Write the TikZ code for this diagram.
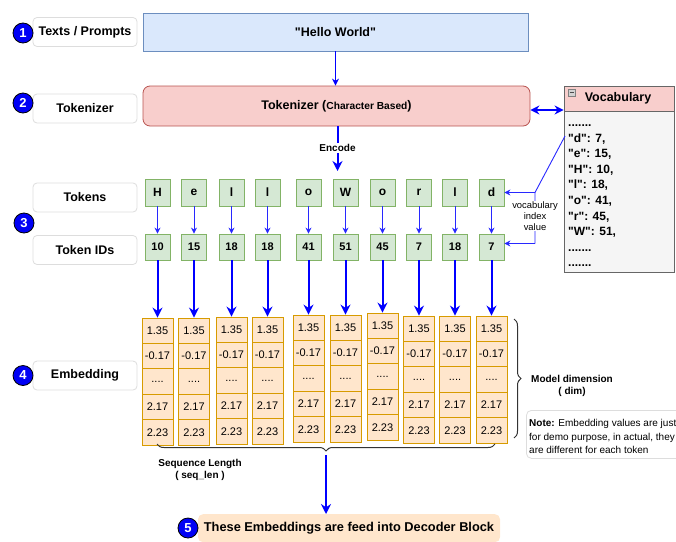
\documentclass[tikz,border=0pt]{standalone}
\usepackage{fontspec}
\setmainfont[Ligatures=TeXOff]{Liberation Sans}
\usetikzlibrary{arrows.meta,decorations.pathreplacing,calc}

\definecolor{arrowblue}{RGB}{0,0,255}
\definecolor{thinblue}{RGB}{40,40,255}
\definecolor{numblue}{RGB}{0,0,245}
\definecolor{bluefill}{HTML}{DAE8FC}
\definecolor{blueline}{HTML}{6C8EBF}
\definecolor{redfill}{HTML}{F8CECC}
\definecolor{redline}{HTML}{B85450}
\definecolor{greenfill}{HTML}{D5E8D4}
\definecolor{greenline}{HTML}{82B366}
\definecolor{orangefill}{HTML}{FFE6CC}
\definecolor{orangeline}{HTML}{D79B00}
\definecolor{grayfill}{HTML}{F5F5F5}
\definecolor{grayline}{HTML}{666666}
\definecolor{softline}{HTML}{DDDDDD}
\definecolor{bracecol}{HTML}{333333}

% dotted placeholders (kept out of \foreach lists)
\newcommand\embdots{....}
\newcommand\vocdots{.......}

\begin{document}
\begin{tikzpicture}[x=1pt,y=-1pt,
  lbl/.style={draw=softline, fill=white, rounded corners=4pt, minimum width=104pt,
    minimum height=29pt, inner sep=0pt, line width=0.8pt,
    font=\bfseries\fontsize{12.5}{14}\selectfont},
  num/.style={circle, draw=black, fill=numblue, text=white, minimum size=20pt,
    inner sep=0pt, line width=0.8pt, font=\bfseries\fontsize{13}{14}\selectfont},
  tok/.style={draw=greenline, fill=greenfill, minimum width=25pt, minimum height=27pt,
    inner sep=0pt, line width=0.8pt, font=\bfseries\fontsize{12}{14}\selectfont},
  tid/.style={tok, minimum height=26pt, font=\bfseries\fontsize{11}{13}\selectfont},
  cell/.style={draw=orangeline, fill=orangefill, minimum width=31pt, minimum height=25.4pt,
    inner sep=0pt, line width=0.8pt, font=\fontsize{11}{13}\selectfont},
  vocabtxt/.style={anchor=base west, inner sep=0pt, font=\bfseries\fontsize{12}{14}\selectfont},
  thinarrow/.style={draw=thinblue, line width=0.9pt, -{Stealth[length=6pt,width=6pt]}},
  thinline/.style={draw=thinblue, line width=0.9pt},
  medarrow/.style={draw=arrowblue, line width=1.3pt, -{Stealth[length=7pt,width=7pt]}},
  bigarrow/.style={draw=arrowblue, line width=2pt, -{Stealth[length=10pt,width=10pt]}},
  dblarrow/.style={draw=arrowblue, line width=1.8pt,
    {Stealth[length=9pt,width=9pt]}-{Stealth[length=9pt,width=9pt]}},
  bracket/.style={draw=bracecol, line width=1pt, decorate,
    decoration={brace, amplitude=7pt}},
  note/.style={inner sep=0pt, align=left, font=\fontsize{10}{13.5}\selectfont},
]
\useasboundingbox (0,0) rectangle (676,541);

% ---- row labels on the left ----
\node[lbl] (lText)   at (85,32)    {Texts / Prompts};
\node[lbl] (lTok)    at (85,108.5) {Tokenizer};
\node[lbl] (lTokens) at (85,197.5) {Tokens};
\node[lbl] (lIds)    at (85,250)   {Token IDs};
\node[lbl] (lEmb)    at (85,375.5) {Embedding};

\node[num] (n1) at (23,33)    {1};
\node[num] (n2) at (23,103)   {2};
\node[num] (n3) at (24,223)   {3};
\node[num] (n4) at (23,375.5) {4};

% ---- input text and tokenizer ----
\node[draw=blueline, fill=bluefill, minimum width=385pt, minimum height=38pt,
  line width=0.8pt, font=\bfseries\fontsize{12.5}{14}\selectfont] (hello) at (335.5,32) {"Hello World"};
\node[draw=redline, fill=redfill, rounded corners=7pt, minimum width=387pt, minimum height=40pt,
  line width=0.8pt, font=\bfseries\fontsize{12.5}{14}\selectfont] (tokz) at (336.5,106)
  {Tokenizer ({\fontsize{10.2}{12}\selectfont Character Based})};

\draw[medarrow] (hello.south) -- (hello.south |- tokz.north);

% ---- vocabulary table ----
\node[draw=grayline, fill=grayfill, minimum width=110pt, minimum height=161pt,
  inner sep=0pt, line width=0.8pt] (vbody) at (619,191.5) {};
\node[draw=grayline, fill=redfill, minimum width=110pt, minimum height=25pt,
  inner sep=0pt, line width=0.8pt] (vhead) at (619,98.5) {};
\node[font=\bfseries\fontsize{12.5}{14}\selectfont, inner sep=0pt] (vtitle) at (618,98) {Vocabulary};
\node[draw=gray, fill=gray!35, minimum size=7pt, inner sep=0pt, line width=0.5pt] (vicon) at (571.5,92.5) {};
\draw[black!70, line width=0.8pt] ([xshift=-2pt]vicon.center) -- ([xshift=2pt]vicon.center);

\foreach \txt [count=\k] in {\vocdots,{"d": 7,},{"e": 15,},{"H": 10,},{"l": 18,},
    {"o": 41,},{"r": 45,},{"W": 51,},\vocdots,\vocdots}
  \node[vocabtxt] (v\k) at (568,{126.5+15.6*(\k-1)}) {\txt};

\draw[dblarrow] ([yshift=-4pt]tokz.east) -- ([yshift=-4pt]tokz.east -| vhead.west);

% ---- encode step ----
\coordinate (encEnd) at (337.5,171);
\draw[bigarrow] (tokz.south -| encEnd) -- (encEnd);
\node[fill=white, inner sep=1pt, font=\bfseries\fontsize{10}{12}\selectfont] (enc) at (337.5,148) {Encode};

% ---- tokens, ids and embedding columns ----
\foreach \x/\top/\t/\id [count=\n] in {
    157.5/318/H/10, 194/318/e/15, 231.5/317/l/18, 267.5/317/l/18, 308.5/315/o/41,
    345.5/315/W/51, 382.5/313/o/45, 419/316/r/7, 455/316/l/18, 491.5/316/d/7} {
  \node[tok] (t\n) at (\x,192.5) {\t};
  \node[tid] (i\n) at (\x,247) {\id};
  \draw[thinarrow] (t\n) -- (i\n);
  \foreach \v [count=\r] in {1.35,-0.17,\embdots,2.17,2.23}
    \node[cell] (c\n-\r) at (\x,{\top+12.7+25.4*(\r-1)}) {\v};
  \draw[bigarrow] (i\n.south) -- (i\n.south |- c\n-1.north);
}

% ---- link from the vocabulary to the last token ----
\coordinate (vdot) at (565,136);
\coordinate (vj)  at (535,192.5);
\coordinate (vj2) at (535,243.5);
\draw[thinline] (vdot) -- (vj) -- (vj2);
\draw[thinarrow] (vj) -- (vj -| t10.east);
\draw[thinarrow] (vj2) -- (vj2 -| i10.east);
\node[fill=white, inner sep=1pt, align=center, font=\fontsize{9.4}{11}\selectfont] (vidx)
  at (535,216) {vocabulary\\index\\value};

% ---- model dimension brace and note ----
\draw[bracket] (514,319) -- (514,438);
\node[align=center, inner sep=0pt, font=\bfseries\fontsize{10}{12}\selectfont] (dim)
  at (572,386) {Model dimension\\( dim)};
\node[draw=softline, fill=white, rounded corners=5pt, line width=0.8pt,
  minimum width=170pt, minimum height=48pt, anchor=north west] (noteBox) at (526,410) {};
\node[note, anchor=west] (noteTxt) at (529,436.5)
  {\textbf{Note:} Embedding values are just\\for demo purpose, in actual, they\\are different for each token};

% ---- sequence length brace and output ----
\draw[bracket] (495,444) -- (157,444);
\coordinate (seqTip) at (326,455);
\node[align=center, inner sep=0pt, font=\bfseries\fontsize{10}{12}\selectfont] (seq)
  at (200,470) {Sequence Length\\( seq\_len )};

\node[fill=orangefill, rounded corners=5pt, minimum width=302pt, minimum height=28pt,
  anchor=north, inner sep=0pt, font=\bfseries\fontsize{12.8}{14}\selectfont] (out)
  at (349,514) {These Embeddings are feed into Decoder Block};
\draw[bigarrow] (seqTip) -- (seqTip |- out.north);
\node[num] (n5) at (188,528) {5};
\end{tikzpicture}
\end{document}
